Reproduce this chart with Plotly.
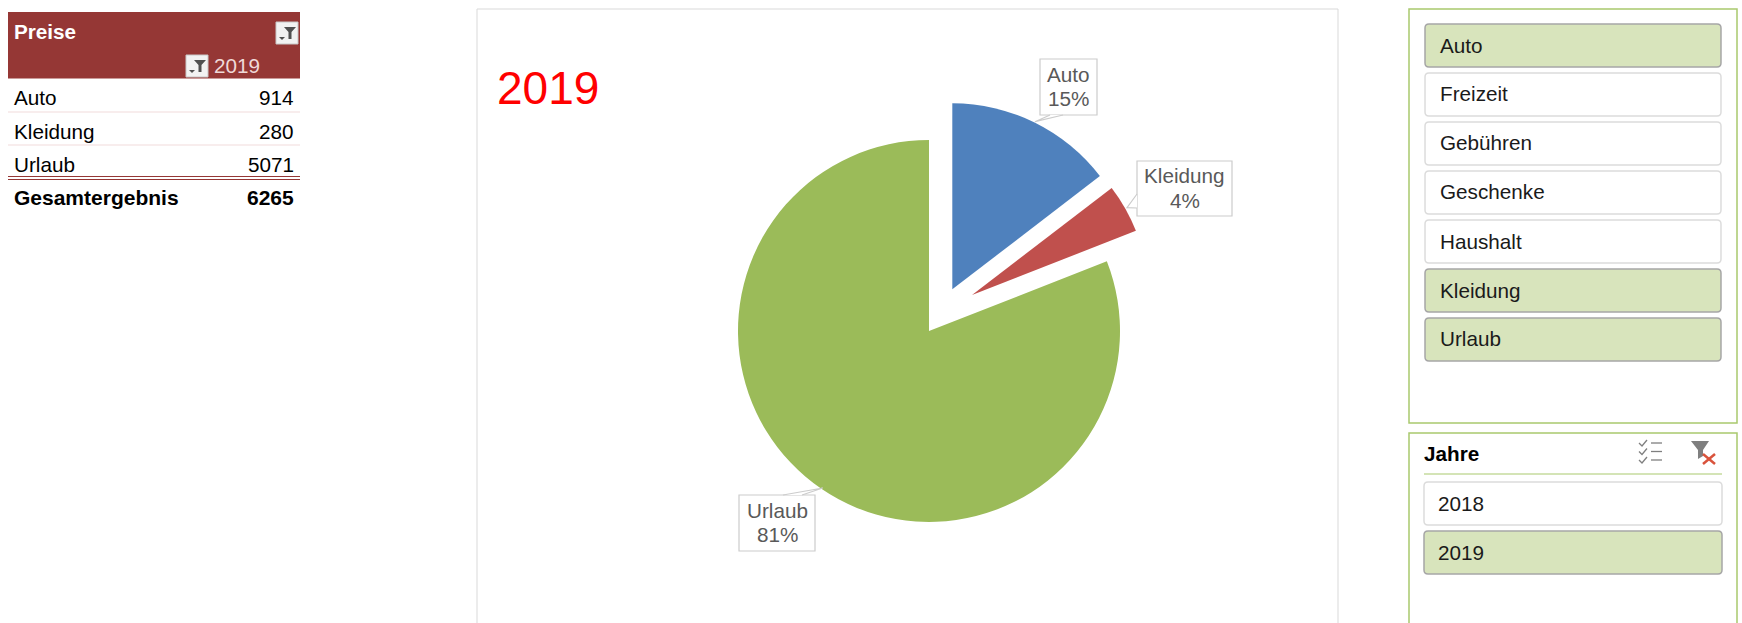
import plotly.graph_objects as go

W, H = 1742, 623
FONT = "Liberation Sans"
TS = 20.7

categories = ["Auto", "Kleidung", "Urlaub"]
values = [914, 280, 5071]
total_label = "Gesamtergebnis"
total_value = 6265
pie_colors = ["#4F81BD", "#C0504D", "#9BBB59"]
slice_centers = [(952.3, 289.3), (972.0, 295.0), (929.0, 331.0)]
slice_radii = [186, 176, 191]
year_title = "2019"
table_title = "Preise"
slicer_items = ["Auto", "Freizeit", "Gebühren", "Geschenke", "Haushalt", "Kleidung", "Urlaub"]
slicer_selected = ["Auto", "Kleidung", "Urlaub"]
year_items = ["2018", "2019"]
year_selected = ["2019"]
year_slicer_title = "Jahre"

px = lambda x: x / W
py = lambda y: 1 - y / H

shapes, annos = [], []


def text(x, y, s, size=TS, color="#000000", anchor="left", bold=False):
    annos.append(dict(xref="paper", yref="paper", x=px(x), y=py(y), text=f"<b>{s}</b>" if bold else s,
                      showarrow=False, xanchor=anchor, yanchor="middle", align="center",
                      borderpad=0, font=dict(family=FONT, size=size, color=color)))


def rect(x0, y0, x1, y1, fill=None, line=None, width=1):
    shapes.append(dict(type="rect", xref="paper", yref="paper", x0=px(x0), x1=px(x1), y0=py(y0), y1=py(y1),
                       fillcolor=fill or "rgba(0,0,0,0)",
                       line=dict(color=line or "rgba(0,0,0,0)", width=width if line else 0)))


def path(points, fill=None, line=None, width=1, close=True):
    d = "M" + " L".join(f"{px(a):.5f},{py(b):.5f}" for a, b in points) + (" Z" if close else "")
    shapes.append(dict(type="path", xref="paper", yref="paper", path=d,
                       fillcolor=fill or "rgba(0,0,0,0)",
                       line=dict(color=line or "rgba(0,0,0,0)", width=width if line else 0)))


def round_rect(x0, y0, x1, y1, fill, line, width=1.5, r=4):
    p = lambda a, b: f"{px(a):.5f},{py(b):.5f}"
    d = (f"M{p(x0 + r, y0)} L{p(x1 - r, y0)} Q{p(x1, y0)} {p(x1, y0 + r)} L{p(x1, y1 - r)} "
         f"Q{p(x1, y1)} {p(x1 - r, y1)} L{p(x0 + r, y1)} Q{p(x0, y1)} {p(x0, y1 - r)} "
         f"L{p(x0, y0 + r)} Q{p(x0, y0)} {p(x0 + r, y0)} Z")
    shapes.append(dict(type="path", xref="paper", yref="paper", path=d, fillcolor=fill,
                       line=dict(color=line, width=width)))


def funnel_button(x0, y0, size):
    rect(x0, y0, x0 + size, y0 + size, fill="#F2F2F2", line="#C8C8C8", width=1)
    s = size / 22
    path([(x0 + 8 * s, y0 + 5 * s), (x0 + 20 * s, y0 + 5 * s), (x0 + 15.5 * s, y0 + 10 * s),
          (x0 + 15.5 * s, y0 + 17 * s), (x0 + 12.5 * s, y0 + 17 * s), (x0 + 12.5 * s, y0 + 10 * s)], fill="#505050")
    path([(x0 + 3 * s, y0 + 15 * s), (x0 + 9 * s, y0 + 15 * s), (x0 + 6 * s, y0 + 18 * s)], fill="#505050")


# pivot table
rect(8, 12, 300, 78.5, fill="#953735")
text(13, 32, table_title, color="#FFFFFF", bold=True)
text(260.5, 65, year_title, color="#EFD9D8", anchor="right")
funnel_button(276, 22, 22)
funnel_button(186, 55, 22)
row_y = [98, 131, 164.5]
for name, val, y in zip(categories, values, row_y):
    text(12.5, y, name)
    text(295, y, str(val), anchor="right")
rect(8, 111.5, 300, 112.5, fill="#F2DCDB")
rect(8, 144.5, 300, 145.5, fill="#F2DCDB")
rect(8, 176, 300, 177, fill="#953735")
rect(8, 179, 300, 180, fill="#953735")
text(12.5, 197, total_label, size=21, bold=True)
text(295, 197, str(total_value), size=21, anchor="right", bold=True)

# chart frame
rect(477, 9, 1338, 640, line="#D9D9D9", width=1)
text(496, 88, year_title, size=46, color="#FF0000")

# category slicer
rect(1409, 9, 1737, 423, line="#A9C96E", width=1.5)
for i, name in enumerate(slicer_items):
    y0 = 24 + 49 * i
    on = name in slicer_selected
    round_rect(1425, y0, 1721, y0 + 43, "#D8E4BC" if on else "#FFFFFF", "#A6A6A6" if on else "#DCDCDC")
    text(1438.5, y0 + 21, name, color="#1A1A1A")

# year slicer
rect(1409, 433, 1737, 640, line="#A9C96E", width=1.5)
text(1422.5, 453, year_slicer_title, bold=True)
rect(1424, 473.5, 1722, 474.5, fill="#A9C96E")
for i, name in enumerate(year_items):
    y0 = 482 + 49 * i
    on = name in year_selected
    round_rect(1424, y0, 1722, y0 + 43, "#D8E4BC" if on else "#FFFFFF", "#A6A6A6" if on else "#DCDCDC")
    text(1437, y0 + 21, name, color="#1A1A1A")

# slicer header icons
for y in (443, 451.5, 460):
    path([(1639, y), (1642, y + 3), (1647, y - 3)], line="#7F7F7F", width=1.3, close=False)
    path([(1651, y), (1662, y)], line="#7F7F7F", width=1.3, close=False)
path([(1691, 441), (1709, 441), (1703, 450), (1703, 456), (1698, 459), (1698, 450)], fill="#7F7F7F")
path([(1703, 454), (1715, 464)], line="#D9533C", width=2.5, close=False)
path([(1715, 454), (1703, 464)], line="#D9533C", width=2.5, close=False)

# data label callouts
boxes = [(1040, 59, 1097, 115), (1137, 161, 1232, 216), (739, 495, 815, 551)]
leaders = [[(1050, 115), (1035, 121.7), (1063, 115)],
           [(1137, 194), (1127, 207.7), (1137, 208)],
           [(783, 495), (822.7, 488), (802, 495)]]
total = sum(values)
for name, val, b, l in zip(categories, values, boxes, leaders):
    rect(*b, fill="#FFFFFF", line="#CCCCCC", width=1.2)
    path(l, fill="#FFFFFF", line="#CCCCCC", width=1.2, close=False)
    cx = (b[0] + b[2]) / 2
    text(cx, (b[1] + b[3]) / 2 - 13, name, color="#595959", anchor="center")
    text(cx, (b[1] + b[3]) / 2 + 11.5, f"{round(val / total * 100)}%", color="#595959", anchor="center")

# one pie per exploded slice: the reference's slices have individual offsets and radii
fig = go.Figure()
for i, name in enumerate(categories):
    cx, cy = slice_centers[i]
    r = slice_radii[i]
    colors = [pie_colors[j] if j == i else "rgba(0,0,0,0)" for j in range(len(categories))]
    fig.add_trace(go.Pie(labels=categories, values=values, sort=False, direction="clockwise", rotation=0,
                         textinfo="none", hoverinfo="skip", showlegend=False,
                         marker=dict(colors=colors, line=dict(width=0)),
                         domain=dict(x=[px(cx - r), px(cx + r)], y=[py(cy + r), py(cy - r)])))

fig.update_layout(width=W, height=H, margin=dict(l=0, r=0, t=0, b=0), autosize=False,
                  paper_bgcolor="#FFFFFF", plot_bgcolor="#FFFFFF", shapes=shapes, annotations=annos,
                  font=dict(family=FONT))
fig.write_html("out.html", config=dict(displayModeBar=False),
               post_script="document.body.style.margin='0';document.body.style.overflow='hidden';")
